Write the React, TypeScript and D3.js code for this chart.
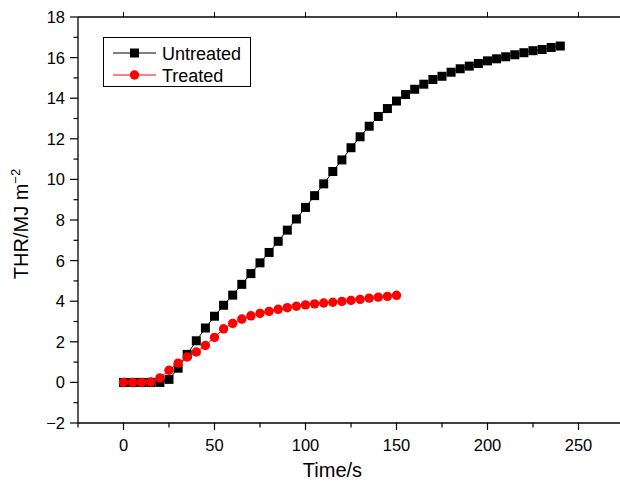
import React from "react";
import * as d3 from "d3";

const timeUntreated = [0,5,10,15,20,25,30,35,40,45,50,55,60,65,70,75,80,85,90,95,100,105,110,115,120,125,130,135,140,145,150,155,160,165,170,175,180,185,190,195,200,205,210,215,220,225,230,235,240];
const thrUntreated = [0,0,0,0,0,0.15,0.7,1.38,2.05,2.68,3.26,3.8,4.3,4.83,5.36,5.89,6.4,6.95,7.5,8.05,8.62,9.2,9.78,10.39,10.96,11.56,12.1,12.62,13.1,13.49,13.86,14.18,14.44,14.69,14.92,15.08,15.28,15.45,15.58,15.71,15.84,15.94,16.04,16.14,16.24,16.34,16.4,16.5,16.57];
const timeTreated = [0,5,10,15,20,25,30,35,40,45,50,55,60,65,70,75,80,85,90,95,100,105,110,115,120,125,130,135,140,145,150];
const thrTreated = [0,0,0,0.02,0.22,0.6,0.95,1.25,1.5,1.82,2.22,2.64,2.91,3.12,3.28,3.4,3.5,3.6,3.68,3.75,3.82,3.87,3.91,3.95,3.99,4.04,4.09,4.15,4.2,4.24,4.29];
const xTicks = [0,50,100,150,200,250];
const yTicks = [-2,0,2,4,6,8,10,12,14,16,18];
const seriesNames = ["Untreated", "Treated"];
const seriesColors = ["#000000", "#ff0000"];

const FONT = "'Liberation Sans', Arial, Helvetica, sans-serif";

export default function App() {
  const W = 620, H = 484;
  const left = 78, top = 17, bottom = 423, right = 624;
  const x = d3.scaleLinear().domain([-25, 275]).range([left, right]);
  const y = d3.scaleLinear().domain([-2, 18]).range([bottom, top]);
  const line = d3.line<[number, number]>().x(d => x(d[0])).y(d => y(d[1]));
  const dU: [number, number][] = timeUntreated.map((t, i) => [t, thrUntreated[i]]);
  const dT: [number, number][] = timeTreated.map((t, i) => [t, thrTreated[i]]);
  const xMinor = d3.range(-25, 276, 50);
  const yMinor = d3.range(-1, 18, 2);
  const fmtY = (v: number) => (v < 0 ? "\u2212" + Math.abs(v) : String(v));
  const sq = 9, r = 4.7;

  return (
    <svg width={W} height={H} style={{ position: "absolute", left: 0, top: 0, background: "#fff" }} fontFamily={FONT}>
      <rect x={0} y={0} width={W} height={H} fill="#fff" />
      {/* frame */}
      <line x1={left} x2={left} y1={top} y2={bottom} stroke="#000" strokeWidth={1.3} />
      <line x1={left} x2={right} y1={bottom} y2={bottom} stroke="#000" strokeWidth={1.3} />
      <line x1={left} x2={right} y1={top} y2={top} stroke="#000" strokeWidth={1.3} />
      <line x1={right} x2={right} y1={top} y2={bottom} stroke="#000" strokeWidth={1.3} />
      {/* x ticks */}
      {xTicks.map(t => (
        <g key={"xt" + t}>
          <line x1={x(t)} x2={x(t)} y1={bottom} y2={bottom + 7} stroke="#000" strokeWidth={1.2} />
          <line x1={x(t)} x2={x(t)} y1={top} y2={top - 5} stroke="#000" strokeWidth={1} />
          <text x={x(t)} y={bottom + 28} fontSize={16.5} textAnchor="middle" fill="#000">{t}</text>
        </g>
      ))}
      {xMinor.map(t => (
        <g key={"xm" + t}>
          <line x1={x(t)} x2={x(t)} y1={bottom} y2={bottom + 4.5} stroke="#000" strokeWidth={1.2} />
        </g>
      ))}
      {/* y ticks */}
      {yTicks.map(v => (
        <g key={"yt" + v}>
          <line x1={left - 8} x2={left} y1={y(v)} y2={y(v)} stroke="#000" strokeWidth={1.2} />
          <text x={left - 13} y={y(v) + 6} fontSize={16.5} textAnchor="end" fill="#000">{fmtY(v)}</text>
        </g>
      ))}
      {yMinor.map(v => (
        <line key={"ym" + v} x1={left - 4.5} x2={left} y1={y(v)} y2={y(v)} stroke="#000" strokeWidth={1.2} />
      ))}
      {/* axis titles */}
      <text x={(left + 587) / 2} y={477} fontSize={20} textAnchor="middle" fill="#000">Time/s</text>
      <text transform={`translate(28, 224) rotate(-90)`} fontSize={20} textAnchor="middle" fill="#000">
        THR/MJ m<tspan dy={-8} fontSize={13}>{"\u22122"}</tspan>
      </text>
      {/* series */}
      <path d={line(dU) || ""} fill="none" stroke={seriesColors[0]} strokeWidth={1} />
      {dU.map((d, i) => (
        <rect key={"u" + i} x={x(d[0]) - sq / 2} y={y(d[1]) - sq / 2} width={sq} height={sq} fill={seriesColors[0]} />
      ))}
      <path d={line(dT) || ""} fill="none" stroke={seriesColors[1]} strokeWidth={1} />
      {dT.map((d, i) => (
        <circle key={"t" + i} cx={x(d[0])} cy={y(d[1])} r={r} fill={seriesColors[1]} />
      ))}
      {/* legend */}
      <rect x={103.5} y={37.5} width={147} height={49} fill="#fff" stroke="#000" strokeWidth={1} />
      {seriesNames.map((n, i) => {
        const ly = 53 + i * 22;
        return (
          <g key={n}>
            <line x1={113} x2={156} y1={ly} y2={ly} stroke={seriesColors[i]} strokeWidth={1} />
            {i === 0 ? (
              <rect x={134.5 - sq / 2} y={ly - sq / 2} width={sq} height={sq} fill={seriesColors[i]} />
            ) : (
              <circle cx={134.5} cy={ly} r={r} fill={seriesColors[i]} />
            )}
            <text x={162} y={ly + 6.5} fontSize={18} fill="#000">{n}</text>
          </g>
        );
      })}
    </svg>
  );
}
